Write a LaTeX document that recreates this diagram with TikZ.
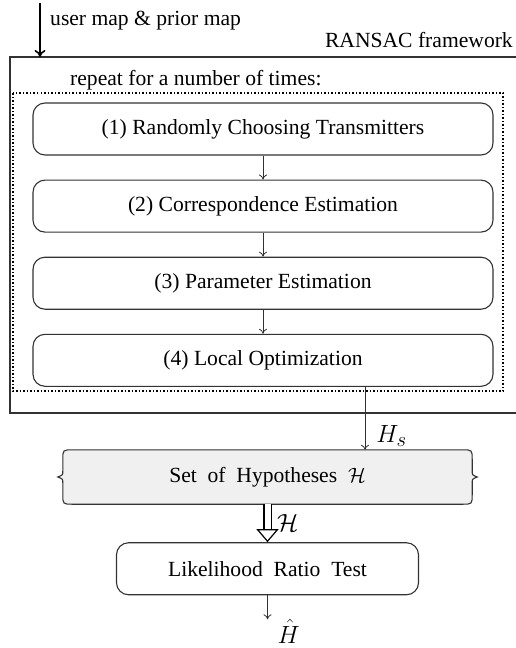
\documentclass[tikz,border=0pt]{standalone}
\usepackage{fontspec}
\setmainfont{Liberation Serif}
\usetikzlibrary{arrows.meta, positioning, calc}
\definecolor{FrameGray}{RGB}{50,50,50}
\definecolor{SetFill}{RGB}{240,240,240}
\newcommand{\boxfont}{\fontsize{21.6}{26}\selectfont}
\tikzset{
  stage/.style={rectangle, rounded corners=12pt, draw=FrameGray,
    line width=1.1pt, minimum width=460pt, minimum height=52pt,
    text centered, font=\boxfont},
  link/.style={-{To[length=5pt,width=8pt]}, line width=0.8pt, draw=FrameGray},
  bigarr/.style={-{To[length=7pt,width=11pt]}, line width=1.6pt},
  implarr/.style={-{Triangle[open,length=13pt,width=22pt]}, double,
    double distance=6pt, line width=1.2pt},
  lbl/.style={font=\boxfont, inner sep=0pt, text=black},
  mlbl/.style={font=\Huge, inner sep=0pt, text=black},
}
\begin{document}
\begin{tikzpicture}[x=1pt, y=-1pt, node distance=24pt]
  \useasboundingbox (0,0) rectangle (515,648);
  % RANSAC frame and loop
  \draw[FrameGray, line width=1.1pt] (10,57) rectangle (540,413);
  \draw[dotted, line width=1.5pt] (13,93) rectangle (503,391);
  \node[lbl, anchor=base west] (inlbl) at (50,25) {user map \& prior map};
  \node[lbl, anchor=base east] (ransac) at (513,47) {RANSAC framework};
  \node[lbl, anchor=base west] (rep) at (70,85) {repeat for a number of times:};
  \coordinate (intop) at (40,3);
  \coordinate (inbot) at (40,57);
  \draw[bigarr] (intop) -- (inbot);
  % the four steps
  \node[stage] (st1) at (263,129) {(1) Randomly Choosing Transmitters};
  \node[stage, below=of st1] (st2) {(2) Correspondence Estimation};
  \node[stage, below=of st2] (st3) {(3) Parameter Estimation};
  \node[stage, below=of st3] (st4) {(4) Local Optimization};
  \draw[link] (st1)--(st2);
  \draw[link] (st2)--(st3);
  \draw[link] (st3)--(st4);
  % hypotheses set
  \node[minimum width=409pt, minimum height=54pt, inner sep=0pt] (hyp) at (267.5,477) {};
  \fill[SetFill, draw=FrameGray, line width=1.1pt]
    ($(hyp.north west)+(10pt,0)$) -- ($(hyp.north east)+(-10pt,0)$)
    .. controls (hyp.north east) .. ($(hyp.north east)+(0,-10pt)$)
    -- ($(hyp.east)+(0,6pt)$) .. controls ($(hyp.east)+(0,2pt)$) .. ($(hyp.east)+(5pt,0)$)
    .. controls ($(hyp.east)+(0,-2pt)$) .. ($(hyp.east)+(0,-6pt)$)
    -- ($(hyp.south east)+(0,10pt)$) .. controls (hyp.south east) .. ($(hyp.south east)+(-10pt,0)$)
    -- ($(hyp.south west)+(10pt,0)$) .. controls (hyp.south west) .. ($(hyp.south west)+(0,10pt)$)
    -- ($(hyp.west)+(0,-6pt)$) .. controls ($(hyp.west)+(0,-2pt)$) .. ($(hyp.west)+(-5pt,0)$)
    .. controls ($(hyp.west)+(0,2pt)$) .. ($(hyp.west)+(0,6pt)$)
    -- ($(hyp.north west)+(0,-10pt)$) .. controls (hyp.north west) .. cycle;
  \node[font=\boxfont] at (hyp) {Set\ \ of\ \ Hypotheses\ \ $\mathcal{H}$};
  \draw[link] ([xshift=102pt]st4.south) -- ([xshift=102pt]st4.south |- hyp.north)
    node[mlbl, pos=0.78, right=11pt] {$H_s$};
  % likelihood test
  \node[stage, minimum width=302pt, below=38pt of hyp] (lrt) {Likelihood\ \ Ratio\ \ Test};
  \draw[implarr] (hyp) -- (lrt) node[mlbl, midway, right=9pt] {$\mathcal{H}$};
  \coordinate[below=24pt of lrt] (outp);
  \draw[link] (lrt) -- (outp);
  \node[mlbl, below right=0pt and 10pt of outp] (hhat) {$\hat{H}$};
\end{tikzpicture}
\end{document}
